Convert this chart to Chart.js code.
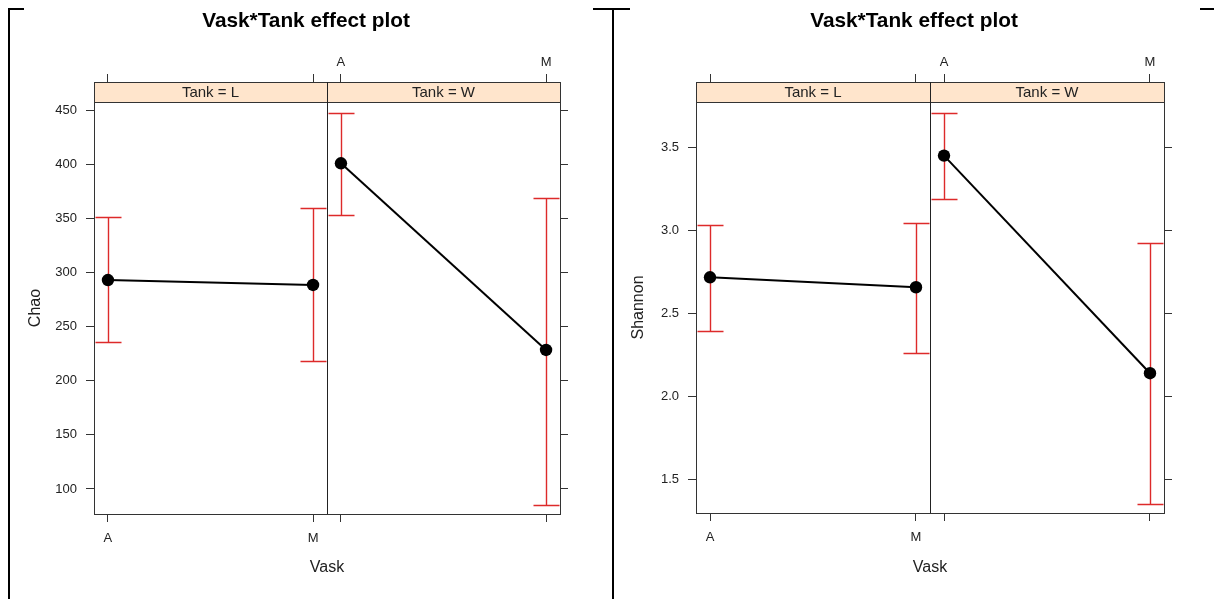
<!DOCTYPE html>
<html><head><meta charset="utf-8">
<script src="https://cdn.jsdelivr.net/npm/chart.js@4.4.0/dist/chart.umd.min.js"></script>
<style>
html,body{margin:0;padding:0;background:#fff;}
body{width:1214px;height:599px;position:relative;overflow:hidden;}
canvas{position:absolute;top:0;}
.ln{position:absolute;background:#000;}
</style></head><body>
<canvas id="c1" width="612" height="599" style="left:0px"></canvas>
<canvas id="c2" width="600" height="599" style="left:614px"></canvas>
<div class="ln" style="left:8px;top:8px;width:2px;height:591px"></div>
<div class="ln" style="left:612px;top:8px;width:2px;height:591px"></div>
<div class="ln" style="left:8px;top:8px;width:16px;height:2px"></div>
<div class="ln" style="left:593px;top:8px;width:37px;height:2px"></div>
<div class="ln" style="left:1200px;top:8px;width:14px;height:2px"></div>
<script>
// ---- data ----
const vask = ['A', 'M'];
const tanks = ['L', 'W'];
const chartTitle = 'Vask*Tank effect plot';

const chaoL = [293, 288.4];
const chaoLLower = [235.8, 218];
const chaoLUpper = [351, 359.5];
const chaoW = [400.8, 228.4];
const chaoWLower = [352.7, 85.3];
const chaoWUpper = [447, 369];
const chaoTicks = [100, 150, 200, 250, 300, 350, 400, 450];

const shannonL = [2.717, 2.657];
const shannonLLower = [2.395, 2.259];
const shannonLUpper = [3.032, 3.046];
const shannonW = [3.45, 2.139];
const shannonWLower = [3.189, 1.35];
const shannonWUpper = [3.707, 2.925];
const shannonTicks = [1.5, 2.0, 2.5, 3.0, 3.5];

// ---- layout helpers ----
const PAD = 0.068;
const PANEL = 1 + 2 * PAD;
const FONT = 'Liberation Sans, Arial, Helvetica, sans-serif';
const TITLE_SIZE = 20.8;
const xPos = (panel, cat) => panel * PANEL + cat;
const xTickVals = [];
tanks.forEach((t, p) => vask.forEach((v, c) => xTickVals.push(xPos(p, c))));

const errorBars = {
  id: 'errorBars',
  beforeDatasetsDraw(chart) {
    const {ctx, scales: {x, y}} = chart;
    ctx.save();
    ctx.strokeStyle = '#dd2a2a';
    ctx.lineWidth = 1.4;
    chart.data.datasets.forEach(ds => {
      ds.data.forEach((pt, i) => {
        const px = Math.round(x.getPixelForValue(pt.x)) + 0.5;
        const yl = y.getPixelForValue(ds.lower[i]);
        const yu = y.getPixelForValue(ds.upper[i]);
        ctx.beginPath();
        ctx.moveTo(px, yl); ctx.lineTo(px, yu);
        ctx.moveTo(px - 13, Math.round(yl) + 0.5); ctx.lineTo(px + 13, Math.round(yl) + 0.5);
        ctx.moveTo(px - 13, Math.round(yu) + 0.5); ctx.lineTo(px + 13, Math.round(yu) + 0.5);
        ctx.stroke();
      });
    });
    ctx.restore();
  }
};

const strips = {
  id: 'strips',
  afterDraw(chart) {
    const {ctx, chartArea: {top, bottom}, scales: {x}} = chart;
    const h = 20;
    ctx.save();
    tanks.forEach((t, i) => {
      const x0 = Math.round(x.getPixelForValue(i * PANEL - PAD));
      const x1 = Math.round(x.getPixelForValue((i + 1) * PANEL - PAD));
      ctx.fillStyle = '#ffe5cc';
      ctx.fillRect(x0, top - h, x1 - x0, h);
      ctx.strokeStyle = '#333';
      ctx.lineWidth = 1;
      ctx.strokeRect(x0 + 0.5, Math.round(top - h) + 0.5, x1 - x0, h);
      ctx.fillStyle = '#222';
      ctx.font = '15px ' + FONT;
      ctx.textAlign = 'center';
      ctx.textBaseline = 'middle';
      ctx.fillText('Tank = ' + t, (x0 + x1) / 2, top - h / 2 + 0.5);
    });
    const xd = Math.round(x.getPixelForValue(PANEL - PAD)) + 0.5;
    ctx.beginPath();
    ctx.moveTo(xd, top - h); ctx.lineTo(xd, bottom);
    ctx.strokeStyle = '#222';
    ctx.stroke();
    ctx.restore();
  }
};

function makeChart(id, o) {
  const canvas = document.getElementById(id);
  const W = canvas.width, H = canvas.height;
  const tickFont = {family: FONT, size: 13};
  const titleH = 9 + TITLE_SIZE * 1.2;
  const datasets = o.series.map((s, p) => ({
    data: vask.map((v, c) => ({x: xPos(p, c), y: s.fit[c]})),
    lower: s.lower, upper: s.upper,
    borderColor: '#000', borderWidth: 2,
    pointRadius: 6.2, pointBackgroundColor: '#000', pointBorderWidth: 0,
    tension: 0, fill: false
  }));
  const xCommon = {
    type: 'linear', min: -PAD, max: 2 * PANEL - PAD,
    afterBuildTicks: s => { s.ticks = xTickVals.map(v => ({value: v})); },
    border: {display: true, color: '#333', width: 1}
  };
  const yCommon = {
    type: 'linear', min: o.yMin, max: o.yMax,
    afterBuildTicks: s => { s.ticks = o.yTicks.map(v => ({value: v})); },
    border: {display: true, color: '#333', width: 1},
    grid: {drawOnChartArea: false, tickLength: 8, tickColor: '#333'}
  };
  return new Chart(canvas, {
    type: 'line',
    data: {datasets},
    plugins: [errorBars, strips],
    options: {
      responsive: false, animation: false,
      layout: {padding: 0},
      plugins: {
        legend: {display: false}, tooltip: {enabled: false},
        title: {display: true, text: chartTitle, color: '#000',
                font: {family: FONT, size: TITLE_SIZE, weight: 'bold', lineHeight: 1.2},
                padding: {top: 9, bottom: 0}}
      },
      scales: {
        x: Object.assign({}, xCommon, {
          position: 'bottom',
          ticks: {autoSkip: false, maxRotation: 0, padding: 8.4, font: tickFont, color: '#222',
                  callback: (v, i) => i < vask.length ? vask[i] : ''},
          grid: {drawOnChartArea: false, tickLength: 8, tickColor: '#333'},
          title: {display: true, text: 'Vask', color: '#222', font: {family: FONT, size: 16, lineHeight: 1.2},
                  padding: {top: 0, bottom: 21.4}},
          afterFit: s => { s.height = H - o.bottom; }
        }),
        xTop: Object.assign({}, xCommon, {
          position: 'top',
          ticks: {autoSkip: false, maxRotation: 0, padding: 3.4, font: tickFont, color: '#222',
                  callback: (v, i) => i >= vask.length ? vask[i - vask.length] : ''},
          grid: {drawOnChartArea: false, tickLength: 28, tickColor: '#333'},
          afterFit: s => { s.height = 102 - titleH; }
        }),
        y: Object.assign({}, yCommon, {
          position: 'left',
          ticks: {padding: 9, font: tickFont, color: '#222', callback: v => o.fmt(v)},
          title: {display: true, text: o.yLabel, color: '#222', font: {family: FONT, size: 16, lineHeight: 1.2},
                  padding: {top: o.yTitlePad, bottom: 0}},
          afterFit: s => { s.width = o.left; }
        }),
        y2: Object.assign({}, yCommon, {
          position: 'right',
          ticks: {padding: 0, font: tickFont, callback: () => ''},
          afterFit: s => { s.width = W - o.right; }
        })
      }
    }
  });
}

makeChart('c1', {
  yLabel: 'Chao', yMin: 76.9, yMax: 457.4, yTicks: chaoTicks, fmt: v => String(v),
  left: 94, right: 560, bottom: 514, yTitlePad: 25.5,
  series: [
    {fit: chaoL, lower: chaoLLower, upper: chaoLUpper},
    {fit: chaoW, lower: chaoWLower, upper: chaoWUpper}
  ]
});
makeChart('c2', {
  yLabel: 'Shannon', yMin: 1.297, yMax: 3.773, yTicks: shannonTicks, fmt: v => v.toFixed(1),
  left: 82, right: 550, bottom: 513, yTitlePad: 15,
  series: [
    {fit: shannonL, lower: shannonLLower, upper: shannonLUpper},
    {fit: shannonW, lower: shannonWLower, upper: shannonWUpper}
  ]
});
</script>
</body></html>
